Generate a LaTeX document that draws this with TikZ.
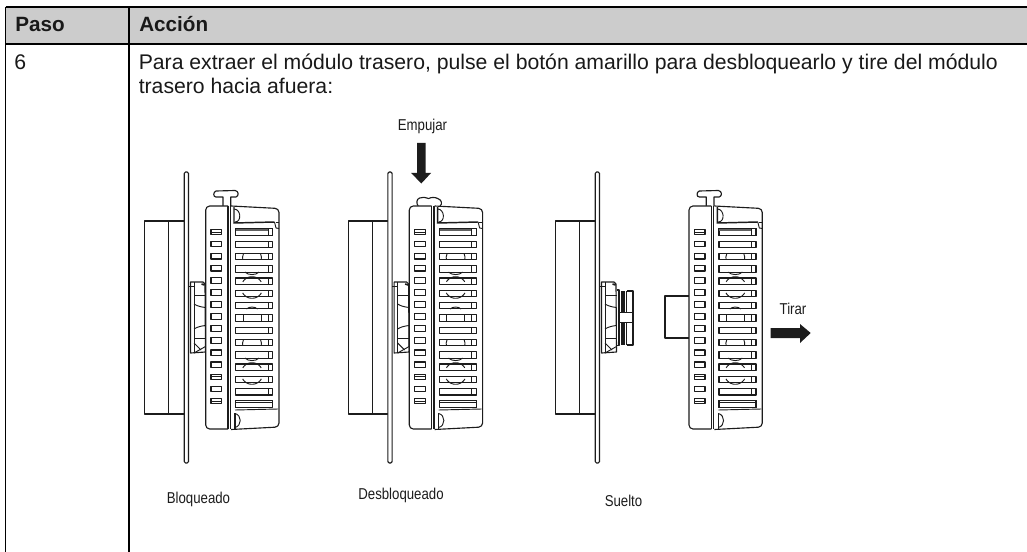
\documentclass[tikz,border=0pt]{standalone}
\usepackage{fontspec}
\usepackage{graphicx}
\setmainfont{Liberation Sans}
\definecolor{ink}{HTML}{1C1C1C}
\definecolor{headgray}{HTML}{CCCCCC}
\tikzset{
  x=0.75pt,y=-0.75pt,
  rule/.style={line width=0.8pt,draw=black},
  art/.style={line width=0.85pt,draw=ink,line join=round},
  fine/.style={line width=0.7pt,draw=ink,line join=round},
  solidink/.style={fill=ink,draw=none},
  tabletext/.style={inner sep=0pt,anchor=base west,text=black!90,font=\fontsize{15.9pt}{18pt}\selectfont},
  headtext/.style={inner sep=0pt,anchor=base west,text=black!90,font=\fontsize{15.5pt}{18pt}\selectfont\bfseries},
  artlabel/.style={inner sep=0pt,anchor=base,text=ink,font=\fontsize{11.8pt}{13pt}\selectfont},
}
\newcommand{\narrowtxt}[1]{\scalebox{0.84}[1]{#1}}
% one row of the grille: y centre, style extras
\newcommand{\GRow}[1]{%
  \draw[art,fill=white] (235.7,#1-3.2) rectangle (272.7,#1+3.2);
  \draw[fine] (268,#1-3.2) -- (268,#1+3.2);
}
\newcommand{\GSlot}[1]{\draw[art,fill=white] (211,#1-2.8) rectangle (221.7,#1+2.8);}
\newcommand{\GSlotS}[1]{\GSlot{#1}\draw[fine] (211,#1) -- (221.7,#1);}
% circle across two rows
\newcommand{\RondoA}[1]{%
  \draw[fine] plot[domain=-148:-32,samples=16,smooth] ({252+10.8*cos(\x)},{#1+10.8*sin(\x)});
  \draw[fine] plot[domain=30:150,samples=16,smooth] ({252+10.8*cos(\x)},{#1+10.8*sin(\x)});
}
% sides in one row, small arc under the next
\newcommand{\RondoB}[1]{%
  \draw[fine] (243.5,#1-3) .. controls (242.4,#1) and (242.4,#1+1) .. (242.8,#1+3);
  \draw[fine] (260.5,#1-3) .. controls (261.6,#1) and (261.6,#1+1) .. (261.2,#1+3);
  \draw[fine] (245,#1+15.5) .. controls (248,#1+18.8) and (256,#1+18.8) .. (259,#1+15.5);
}
% the rear module
\newcommand{\Modulo}[2]{%
  \begin{scope}[shift={(#1,0)}]
    \ifnum#2=0
      \draw[art,fill=white] (223,206) -- (223,197) -- (216,197) .. controls (213,197) and (213,192) .. (216,191)
        -- (235,190.5) .. controls (239,191) and (239,196) .. (236,197) -- (230.7,197) -- (230.7,206);
    \else
      \draw[art,fill=white] (214.5,206) .. controls (212.5,203) and (213,199) .. (216,198)
        .. controls (219,196) and (222,198) .. (225,198.5) .. controls (228,197) and (232,197) .. (235,199)
        .. controls (238,200) and (239,204) .. (236.5,206);
    \fi
    \draw[art,fill=white,rounded corners=3pt] (228,429) -- (205.7,429) -- (205.7,206) -- (228,206);
    \draw[art,fill=white,rounded corners=3pt] (231,206) -- (279,208.5) -- (279,427) -- (231,429.5);
    \draw[line width=0.8pt,draw=ink] (228,206) -- (228,429.3);
    \draw[line width=1.1pt,draw=ink] (230.3,206) -- (230.3,429.3);
    % top latch
    \draw[line width=1.1pt,draw=ink] (234,207) -- (234,223) -- (274.5,222);
    \draw[fine] (234,209) .. controls (241,209) and (242,222) .. (235,222);
    \draw[fine] (274.5,222) -- (276,228) -- (279,228.5);
    \draw[fine] (275.8,222) -- (279,222);
    % bottom latch
    \draw[fine] (235,410) -- (278,409);
    \draw[line width=1.1pt,draw=ink] (235,413) -- (235,428.5);
    \draw[fine] (235,413.5) .. controls (242,415) and (242,426) .. (235,427.5);
    % grille
    \foreach \c in {232,244.3,256.6,268.9,281.2,293.5,305.7,318,330.3,342.6,354.9,367.2,379.5,391.8,404}{\GRow{\c}}
    \draw[art,fill=white] (235.7,228.8) rectangle (272.7,235.2);
    \draw[line width=1.6pt,draw=ink!70] (236,230.2) -- (268,230.2);
    \draw[fine] (268,228.8) -- (268,235.2);
    \draw[art,fill=white] (235.7,400.8) rectangle (272.7,407.5);
    \draw[fine] (235.7,402.8) -- (272.7,402.8);
    \RondoB{256.6}
    \RondoA{287.5}
    \draw[fine] (246.5,309) .. controls (249,306.4) and (255,306.4) .. (257.5,309);
    \draw[fine] (243,314.8) -- (243,321.2);
    \draw[fine] (261,314.8) -- (261,321.2);
    \RondoB{342.6}
    \RondoA{373.5}
    \foreach \c in {244.1,256.2,268.2,280.3,292.4,304.5,316.5,328.6,340.7,352.8,364.8,388.9}{\GSlot{\c}}
    \foreach \c in {232,376.9,401}{\GSlotS{\c}}
  \end{scope}
}
% mounting panel and front part
\newcommand{\Frente}[1]{%
  \begin{scope}[shift={(#1,0)}]
    \draw[art,fill=white] (184.3,221) -- (144.7,221) -- (144.7,414) -- (184.3,414);
    \draw[art] (168.7,221) -- (168.7,414);
    \draw[art,fill=white,rounded corners=1pt] (184.3,172) rectangle (188.5,463);
  \end{scope}
}
% nut behind the panel
\newcommand{\Rosca}[1]{%
  \begin{scope}[shift={(#1,0)}]
    \draw[art,fill=white] (190.5,282) -- (203,282) -- (205,284) -- (205.5,352) -- (190.5,353) -- cycle;
    \draw[fine] (194,282) -- (194,353);
    \draw[fine] (188.8,286) -- (194,286);
    \draw[fine] (194,295) -- (205.5,295);
    \draw[fine] (194,304) .. controls (197,306) and (201,307) .. (205.5,307.5);
    \draw[fine] (194,329) .. controls (197,327) and (201,326) .. (205.5,325.5);
    \draw[fine] (194,338) -- (205.5,338);
    \draw[fine] (194,353) -- (205.5,346.5);
    \draw[fine] (194,343) -- (201,350);
    \draw[line width=1.2pt,draw=ink] (201.5,284) -- (204.5,285);
  \end{scope}
}
\begin{document}
\begin{tikzpicture}
  \useasboundingbox (0,0) rectangle (1027,552);
  % table
  \fill[headgray] (5.5,7) rectangle (1027,44);
  \draw[rule] (5.5,7) -- (1027,7);
  \draw[rule] (5.5,44) -- (1027,44);
  \draw[rule] (5.5,7) -- (5.5,552);
  \draw[rule] (129,7) -- (129,552);
  \node[headtext] (paso) at (15,32) {Paso};
  \node[headtext] (accion) at (139,32) {Acción};
  \node[tabletext] (num) at (14,70) {6};
  \node[tabletext] (lineA) at (138.5,70) {Para extraer el módulo trasero, pulse el botón amarillo para desbloquearlo y tire del módulo};
  \node[tabletext] (lineB) at (138.5,94) {trasero hacia afuera:};
  % figures
  \Frente{0}
  \Rosca{0}
  \Modulo{0}{0}
  \Frente{203.6}
  \Rosca{203.6}
  \Modulo{203.6}{1}
  \Frente{411}
  \begin{scope}[shift={(411,0)}]
    \fill[white] (205.5,288) rectangle (223,347);
    \draw[art,fill=white] (205.5,290) -- (208,290) -- (208,345.5) -- (205.5,345.5);
    \draw[art,fill=white] (216,291) -- (222,291) -- (222,345) -- (216,345);
    \foreach \t in {208.8,210.4,212,213.6,215.2}{
      \draw[line width=0.9pt,draw=ink] (\t,291) -- (\t,312);
      \draw[line width=0.9pt,draw=ink] (\t,322) -- (\t,345);
    }
    \draw[fine] (208,312) -- (222,312);
    \draw[fine] (208,322) -- (222,322);
  \end{scope}
  \Rosca{411}
  % loose module with block
  \draw[art,fill=white] (689,296) -- (665,296) -- (665,338) -- (689,338);
  \Modulo{483.3}{0}
  % arrows
  \fill[solidink] (417,143) -- (425.7,143) -- (425.7,173) -- (431,173) -- (421.3,183.5) -- (411.2,173) -- (417,173) -- cycle;
  \fill[solidink] (770.7,328) -- (800,328) -- (800,324) -- (810.7,333) -- (800,343) -- (800,338) -- (770.7,338) -- cycle;
  % labels
  \node[artlabel] (empujar) at (422.5,131) {\narrowtxt{Empujar}};
  \node[artlabel] (tirar) at (793,314) {\narrowtxt{Tirar}};
  \node[artlabel] (bloq) at (198.5,503) {\narrowtxt{Bloqueado}};
  \node[artlabel] (desb) at (401,499) {\narrowtxt{Desbloqueado}};
  \node[artlabel] (suelto) at (623.5,506) {\narrowtxt{Suelto}};
\end{tikzpicture}
\end{document}
